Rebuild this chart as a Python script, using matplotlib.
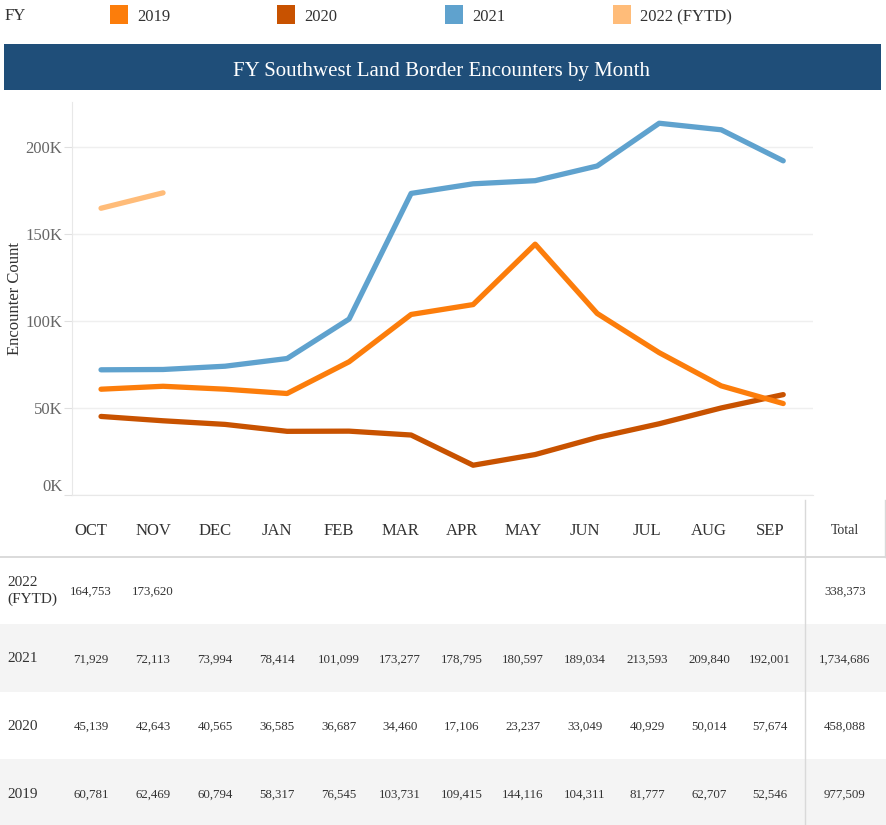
import numpy as np
import matplotlib
matplotlib.use("Agg")
import matplotlib.pyplot as plt
from matplotlib.patches import Rectangle
from matplotlib.lines import Line2D
from matplotlib.ticker import FuncFormatter

plt.rcParams['font.family'] = ['Liberation Serif', 'DejaVu Serif']

months = ["OCT", "NOV", "DEC", "JAN", "FEB", "MAR", "APR", "MAY", "JUN", "JUL", "AUG", "SEP"]
fy_labels = ["2019", "2020", "2021", "2022 (FYTD)"]
v2019 = [60781, 62469, 60794, 58317, 76545, 103731, 109415, 144116, 104311, 81777, 62707, 52546]
v2020 = [45139, 42643, 40565, 36585, 36687, 34460, 17106, 23237, 33049, 40929, 50014, 57674]
v2021 = [71929, 72113, 73994, 78414, 101099, 173277, 178795, 180597, 189034, 213593, 209840, 192001]
v2022 = [164753, 173620]
colors = ["#FC7D0B", "#C85200", "#5FA2CE", "#FFBC79"]

W, H = 887, 825
fig = plt.figure(figsize=(W / 100, H / 100), dpi=100)

def fx(x):
    return x / W

def fy(y):
    return 1 - y / H

# ---- Legend ----
fig.text(fx(5), fy(14), "FY", ha="left", va="center_baseline", fontsize=12, color="#333333")
leg_sq_x = [110, 277, 445, 613]
for lx, lab, c in zip(leg_sq_x, fy_labels, colors):
    fig.patches.append(Rectangle((fx(lx), fy(24)), 18 / W, 19 / H, transform=fig.transFigure,
                                 facecolor=c, edgecolor="none"))
    fig.text(fx(lx + 27), fy(15), lab, ha="left", va="center_baseline", fontsize=12, color="#333333")

# ---- Title bar ----
fig.patches.append(Rectangle((fx(4), fy(90)), 877 / W, 46 / H, transform=fig.transFigure,
                             facecolor="#1F4E79", edgecolor="none"))
fig.text(fx(442), fy(69), "FY Southwest Land Border Encounters by Month", ha="center", va="center_baseline",
         fontsize=15, color="white")

# ---- Chart ----
ax_l, ax_r, ax_t, ax_b = 72, 813, 102, 495
ax = fig.add_axes([fx(ax_l), fy(ax_b), (ax_r - ax_l) / W, (ax_b - ax_t) / H])
x = np.arange(len(months))
ax.plot(x, v2020, color=colors[1], lw=3.8, solid_capstyle="round", solid_joinstyle="round", zorder=3)
ax.plot(x, v2019, color=colors[0], lw=3.8, solid_capstyle="round", solid_joinstyle="round", zorder=4)
ax.plot(x, v2021, color=colors[2], lw=3.8, solid_capstyle="round", solid_joinstyle="round", zorder=3)
ax.plot(x[:len(v2022)], v2022, color=colors[3], lw=3.8, solid_capstyle="round", solid_joinstyle="round", zorder=3)
ax.set_xlim(-0.468, 11.48)
ax.set_ylim(0, 225800)
ax.set_yticks([0, 50000, 100000, 150000, 200000])
ax.yaxis.set_major_formatter(FuncFormatter(lambda v, p: f"{int(v/1000)}K"))
ax.set_xticks([])
ax.grid(axis="y", color="#efefef", lw=1)
ax.set_axisbelow(True)
for s in ["top", "right"]:
    ax.spines[s].set_visible(False)
ax.spines["left"].set_color("#e8e8e8")
ax.spines["bottom"].set_color("#e8e8e8")
ax.tick_params(axis="y", length=6, color="#e0e0e0", labelsize=12, labelcolor="#666666", pad=1)
ylabels = ax.get_yticklabels()
for i, lbl in enumerate(ylabels):
    lbl.set_va("bottom" if i == 0 else "center_baseline")
ax.set_ylabel("Encounter Count", fontsize=12, color="#333333")
ax.yaxis.set_label_coords(-0.066, 0.5)

# ---- Table ----
col_x = [91, 153, 215, 277, 339, 400, 462, 523, 585, 647, 709, 770]
total_x = 845
rows = [("2022\n(FYTD)", v2022, 590, False),
        ("2021", v2021, 658, True),
        ("2020", v2020, 725, False),
        ("2019", v2019, 793, True)]
row_bounds = {590: (557, 624), 658: (624, 692), 725: (692, 759), 793: (759, 825)}

for lab, vals, yc, grey in rows:
    if grey:
        y0, y1 = row_bounds[yc]
        fig.patches.append(Rectangle((0, fy(y1)), 1, (y1 - y0) / H, transform=fig.transFigure,
                                     facecolor="#F4F4F4", edgecolor="none", zorder=0))
    fig.text(fx(7), fy(yc + 1), lab, ha="left", va="center", fontsize=11, color="#333333",
             linespacing=1.3)
    for cx, v in zip(col_x, vals):
        fig.text(fx(cx), fy(yc + 0.5), f"{v:,}", ha="center", va="center_baseline", fontsize=9.3, color="#333333")
    fig.text(fx(total_x), fy(yc + 0.5), f"{sum(vals):,}", ha="center", va="center_baseline", fontsize=9.3,
             color="#333333")

for cx, m in zip(col_x, months):
    fig.text(fx(cx), fy(529), m, ha="center", va="center_baseline", fontsize=12, color="#333333")
fig.text(fx(total_x), fy(529), "Total", ha="center", va="center_baseline", fontsize=10, color="#333333")

fig.lines.append(Line2D([0, 1], [fy(557), fy(557)], transform=fig.transFigure, color="#d4d4d4", lw=1.2))
fig.lines.append(Line2D([fx(805), fx(805)], [fy(500), fy(825)], transform=fig.transFigure, color="#d9d9d9", lw=1))
fig.lines.append(Line2D([fx(885), fx(885)], [fy(500), fy(557)], transform=fig.transFigure, color="#d9d9d9", lw=1))

fig.savefig("out.png", dpi=100, facecolor="white")
